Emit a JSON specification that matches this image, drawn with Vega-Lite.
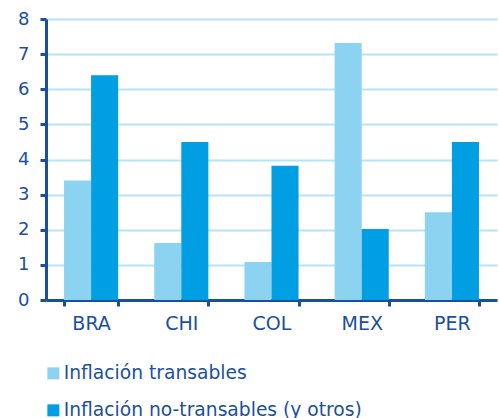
{
  "$schema": "https://vega.github.io/schema/vega-lite/v6.json",
  "autosize": "none",
  "width": 451,
  "height": 281,
  "padding": {"left": 46, "top": 19, "right": 2, "bottom": 118},
  "background": "white",
  "data": {
    "values": [
      {"pais": "BRA", "serie": "Inflación transables", "valor": 3.4},
      {"pais": "BRA", "serie": "Inflación no-transables (y otros)", "valor": 6.4},
      {"pais": "CHI", "serie": "Inflación transables", "valor": 1.62},
      {"pais": "CHI", "serie": "Inflación no-transables (y otros)", "valor": 4.5},
      {"pais": "COL", "serie": "Inflación transables", "valor": 1.08},
      {"pais": "COL", "serie": "Inflación no-transables (y otros)", "valor": 3.82},
      {"pais": "MEX", "serie": "Inflación transables", "valor": 7.32},
      {"pais": "MEX", "serie": "Inflación no-transables (y otros)", "valor": 2.02},
      {"pais": "PER", "serie": "Inflación transables", "valor": 2.5},
      {"pais": "PER", "serie": "Inflación no-transables (y otros)", "valor": 4.5}
    ]
  },
  "mark": {"type": "bar"},
  "encoding": {
    "x": {
      "field": "pais",
      "type": "nominal",
      "sort": null,
      "scale": {"paddingInner": 0.4, "paddingOuter": 0.2},
      "axis": {
        "title": null,
        "labelAngle": 0,
        "tickBand": "extent",
        "domainColor": "#1B4F9C",
        "domainWidth": 3,
        "tickColor": "#1B4F9C",
        "tickWidth": 3,
        "tickSize": 6,
        "labelColor": "#1B4F9C",
        "labelFontSize": 19,
        "labelFont": "DejaVu Sans",
        "labelPadding": 8
      }
    },
    "xOffset": {"field": "serie", "type": "nominal", "sort": ["Inflación transables", "Inflación no-transables (y otros)"]},
    "y": {
      "field": "valor",
      "type": "quantitative",
      "scale": {"domain": [0, 8]},
      "axis": {
        "title": null,
        "values": [0, 1, 2, 3, 4, 5, 6, 7, 8],
        "domainColor": "#1B4F9C",
        "domainWidth": 3,
        "tickColor": "#1B4F9C",
        "tickWidth": 3,
        "tickSize": 6,
        "labelColor": "#1B4F9C",
        "labelFontSize": 18,
        "labelFont": "DejaVu Sans",
        "labelPadding": 11,
        "grid": true,
        "gridColor": "#B8E3F5",
        "gridWidth": 2
      }
    },
    "color": {
      "field": "serie",
      "type": "nominal",
      "sort": ["Inflación transables", "Inflación no-transables (y otros)"],
      "scale": {"range": ["#8CD3F2", "#009EE2"]},
      "legend": {
        "title": null,
        "orient": "none",
        "legendX": -2,
        "legendY": 345,
        "direction": "vertical",
        "symbolType": "square",
        "symbolSize": 144,
        "symbolStrokeWidth": 0,
        "labelFontSize": 18.7,
        "labelFont": "DejaVu Sans",
        "labelColor": "#1B4F9C",
        "labelOffset": 1,
        "labelLimit": 0,
        "rowPadding": 17
      }
    }
  },
  "config": {"view": {"stroke": null}}
}
